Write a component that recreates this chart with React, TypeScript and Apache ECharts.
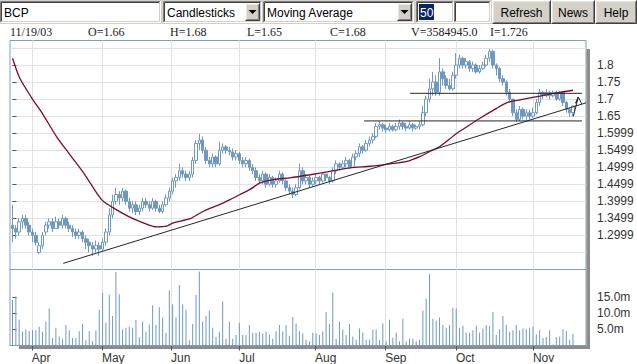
import React, { useEffect, useRef } from "react";
import * as echarts from "echarts";

// Daily candles: [open, close, low, high]
const ohlc: number[][] = [
  [1.33, 1.32, 1.28, 1.39], [1.32, 1.31, 1.29, 1.33], [1.31, 1.34, 1.30, 1.35], [1.34, 1.35, 1.32, 1.36], [1.35, 1.33, 1.32, 1.36],
  [1.33, 1.31, 1.30, 1.34], [1.31, 1.30, 1.28, 1.32], [1.30, 1.28, 1.27, 1.31], [1.25, 1.27, 1.245, 1.28], [1.27, 1.30, 1.26, 1.31],
  [1.31, 1.33, 1.30, 1.34], [1.33, 1.34, 1.32, 1.35], [1.34, 1.32, 1.31, 1.35], [1.32, 1.34, 1.32, 1.355], [1.34, 1.33, 1.32, 1.35],
  [1.33, 1.35, 1.32, 1.36], [1.35, 1.33, 1.32, 1.355], [1.33, 1.32, 1.31, 1.34], [1.32, 1.31, 1.295, 1.33], [1.31, 1.30, 1.29, 1.32],
  [1.30, 1.31, 1.29, 1.32], [1.31, 1.29, 1.28, 1.315], [1.29, 1.28, 1.26, 1.30], [1.28, 1.27, 1.25, 1.29], [1.27, 1.26, 1.24, 1.28],
  [1.26, 1.27, 1.25, 1.285], [1.27, 1.26, 1.24, 1.28], [1.26, 1.28, 1.255, 1.29], [1.28, 1.31, 1.27, 1.32], [1.31, 1.36, 1.30, 1.38],
  [1.36, 1.40, 1.35, 1.42], [1.40, 1.42, 1.39, 1.44], [1.42, 1.41, 1.39, 1.43], [1.41, 1.43, 1.40, 1.44], [1.43, 1.40, 1.39, 1.435],
  [1.40, 1.38, 1.37, 1.41], [1.38, 1.39, 1.365, 1.40], [1.39, 1.37, 1.36, 1.40], [1.37, 1.38, 1.36, 1.39], [1.38, 1.40, 1.37, 1.41],
  [1.40, 1.39, 1.38, 1.41], [1.39, 1.38, 1.37, 1.40], [1.38, 1.40, 1.375, 1.41], [1.40, 1.38, 1.37, 1.405], [1.38, 1.37, 1.365, 1.39],
  [1.37, 1.39, 1.365, 1.40], [1.39, 1.41, 1.385, 1.42], [1.41, 1.43, 1.40, 1.44], [1.43, 1.46, 1.42, 1.47], [1.46, 1.47, 1.44, 1.48],
  [1.47, 1.49, 1.46, 1.51], [1.49, 1.48, 1.47, 1.50], [1.48, 1.47, 1.46, 1.49], [1.47, 1.48, 1.46, 1.49], [1.48, 1.52, 1.47, 1.53],
  [1.52, 1.57, 1.51, 1.58], [1.57, 1.58, 1.55, 1.598], [1.58, 1.55, 1.54, 1.59], [1.55, 1.52, 1.51, 1.56], [1.52, 1.51, 1.50, 1.53],
  [1.51, 1.53, 1.50, 1.54], [1.53, 1.51, 1.50, 1.535], [1.51, 1.55, 1.505, 1.575], [1.55, 1.56, 1.54, 1.57], [1.56, 1.55, 1.54, 1.565],
  [1.55, 1.545, 1.535, 1.56], [1.545, 1.53, 1.52, 1.555], [1.53, 1.54, 1.52, 1.55], [1.54, 1.52, 1.51, 1.545], [1.52, 1.51, 1.50, 1.53],
  [1.51, 1.52, 1.50, 1.53], [1.52, 1.50, 1.49, 1.525], [1.50, 1.49, 1.48, 1.51], [1.49, 1.47, 1.46, 1.50], [1.47, 1.46, 1.45, 1.48],
  [1.46, 1.48, 1.45, 1.49], [1.48, 1.45, 1.44, 1.485], [1.45, 1.47, 1.445, 1.48], [1.47, 1.45, 1.44, 1.475], [1.45, 1.46, 1.44, 1.47],
  [1.46, 1.48, 1.455, 1.49], [1.48, 1.46, 1.45, 1.485], [1.46, 1.44, 1.43, 1.465], [1.44, 1.43, 1.42, 1.45], [1.43, 1.42, 1.41, 1.44],
  [1.42, 1.44, 1.415, 1.45], [1.44, 1.49, 1.435, 1.51], [1.49, 1.46, 1.45, 1.50], [1.46, 1.47, 1.45, 1.48], [1.47, 1.45, 1.44, 1.475],
  [1.45, 1.46, 1.445, 1.47], [1.46, 1.47, 1.45, 1.48], [1.47, 1.46, 1.45, 1.475], [1.46, 1.48, 1.455, 1.485], [1.48, 1.47, 1.46, 1.48],
  [1.47, 1.46, 1.45, 1.475], [1.46, 1.49, 1.455, 1.50], [1.49, 1.51, 1.48, 1.52], [1.51, 1.50, 1.49, 1.515], [1.50, 1.51, 1.495, 1.52],
  [1.51, 1.52, 1.50, 1.53], [1.52, 1.50, 1.495, 1.525], [1.50, 1.53, 1.50, 1.54], [1.53, 1.54, 1.52, 1.55], [1.54, 1.56, 1.53, 1.57],
  [1.56, 1.55, 1.54, 1.565], [1.55, 1.57, 1.545, 1.58], [1.57, 1.58, 1.56, 1.59], [1.58, 1.59, 1.57, 1.60], [1.59, 1.62, 1.585, 1.63],
  [1.62, 1.625, 1.61, 1.635], [1.625, 1.615, 1.605, 1.63], [1.615, 1.61, 1.60, 1.625], [1.61, 1.62, 1.605, 1.63], [1.62, 1.61, 1.605, 1.625],
  [1.61, 1.62, 1.605, 1.63], [1.62, 1.63, 1.61, 1.64], [1.63, 1.62, 1.61, 1.635], [1.62, 1.615, 1.605, 1.63], [1.615, 1.625, 1.61, 1.635],
  [1.625, 1.615, 1.605, 1.63], [1.615, 1.62, 1.61, 1.625], [1.62, 1.625, 1.61, 1.635], [1.625, 1.66, 1.62, 1.68], [1.66, 1.70, 1.65, 1.71],
  [1.70, 1.73, 1.69, 1.76], [1.73, 1.75, 1.71, 1.78], [1.75, 1.72, 1.71, 1.77], [1.72, 1.78, 1.71, 1.82], [1.78, 1.76, 1.74, 1.79],
  [1.76, 1.74, 1.73, 1.77], [1.74, 1.73, 1.725, 1.76], [1.73, 1.77, 1.725, 1.78], [1.77, 1.80, 1.76, 1.835], [1.80, 1.82, 1.79, 1.83],
  [1.82, 1.80, 1.79, 1.825], [1.80, 1.81, 1.79, 1.82], [1.81, 1.79, 1.78, 1.815], [1.79, 1.80, 1.78, 1.81], [1.80, 1.78, 1.775, 1.805],
  [1.78, 1.79, 1.775, 1.80], [1.79, 1.80, 1.785, 1.81], [1.80, 1.82, 1.795, 1.83], [1.82, 1.84, 1.81, 1.847], [1.84, 1.80, 1.79, 1.845],
  [1.80, 1.79, 1.77, 1.805], [1.79, 1.76, 1.75, 1.795], [1.76, 1.75, 1.74, 1.77], [1.75, 1.72, 1.71, 1.755], [1.72, 1.70, 1.69, 1.73],
  [1.70, 1.66, 1.65, 1.70], [1.66, 1.64, 1.633, 1.67], [1.64, 1.67, 1.635, 1.68], [1.67, 1.65, 1.64, 1.675], [1.65, 1.66, 1.64, 1.67],
  [1.66, 1.65, 1.64, 1.67], [1.65, 1.66, 1.645, 1.675], [1.66, 1.69, 1.655, 1.70], [1.69, 1.72, 1.68, 1.73], [1.72, 1.71, 1.70, 1.725],
  [1.71, 1.72, 1.705, 1.73], [1.72, 1.71, 1.70, 1.725], [1.71, 1.72, 1.705, 1.725], [1.72, 1.70, 1.695, 1.725], [1.70, 1.72, 1.695, 1.725],
  [1.72, 1.69, 1.68, 1.72], [1.69, 1.67, 1.66, 1.695], [1.67, 1.66, 1.648, 1.675], [1.66, 1.68, 1.65, 1.68],
];

// Daily volume, millions of shares
const volumes: number[] = [
  14.0, 15.1, 7.9, 4.2, 5.0, 4.5, 4.7, 4.7, 5.8, 4.2,
  7.4, 11.4, 2.3, 5.5, 2.8, 2.1, 6.3, 4.7, 2.3, 2.3,
  4.4, 6.6, 1.6, 4.4, 1.3, 4.7, 11.0, 16.3, 7.0, 15.6,
  9.1, 22.6, 15.8, 5.0, 5.5, 5.8, 5.5, 7.9, 2.6, 7.4,
  4.2, 6.5, 12.4, 6.3, 11.8, 8.6, 3.9, 17.0, 12.7, 8.6,
  18.6, 12.7, 11.0, 1.6, 6.6, 15.6, 22.8, 7.4, 9.1, 10.7,
  5.5, 2.6, 4.2, 13.6, 2.1, 7.4, 2.1, 3.2, 7.0, 3.2,
  3.2, 6.3, 3.9, 3.9, 4.2, 3.7, 4.2, 3.4, 2.1, 4.4,
  6.3, 4.4, 6.3, 3.0, 8.8, 6.8, 4.4, 3.7, 1.8, 1.3,
  3.9, 3.7,
  3.2, 4.4, 10.3, 6.6, 16.3, 2.0, 7.3, 4.9, 3.2, 6.6,
  2.8, 1.8, 5.2, 3.9, 1.8, 1.8, 4.9, 4.9, 1.8, 6.8,
  1.3, 7.9, 2.4, 3.9, 1.3, 8.2, 1.3, 2.1, 2.1, 1.3,
  1.8, 10.7, 14.4, 22.0, 8.2, 7.6, 8.6, 6.3, 5.5, 6.3,
  11.6, 11.4, 5.5, 6.1, 3.9, 3.9, 4.7, 6.1, 3.9, 5.2,
  6.3, 6.0, 10.3, 3.2, 5.0, 9.1, 6.3, 4.2, 4.7, 6.3,
  4.7, 5.2, 5.0, 5.5, 5.8, 3.4, 4.7, 2.3, 2.6, 4.7,
  0.3, 2.6, 2.8, 5.0, 4.4, 1.8, 3.6,
];

// 50-day moving average: [day index, value]
const maPoints: number[][] = [
  [0, 1.82], [2.2, 1.761], [5.8, 1.703], [9.2, 1.654], [13.2, 1.59], [17.2, 1.537], [21.7, 1.478],
  [25.2, 1.425], [27.2, 1.4], [30.2, 1.381], [34.7, 1.356], [39.2, 1.337], [43.2, 1.325], [46.2, 1.327],
  [48.2, 1.337], [53.2, 1.349], [57.2, 1.371], [62.2, 1.391], [65.2, 1.405], [68.2, 1.42], [71.2, 1.435],
  [74.2, 1.454], [78.2, 1.464], [83.2, 1.469], [89.2, 1.478], [95.2, 1.488], [101.2, 1.498], [107.2, 1.503],
  [113.2, 1.51], [118.2, 1.517], [122.2, 1.532], [125.2, 1.547], [128.1, 1.561], [133.2, 1.6], [135.6, 1.615],
  [140.1, 1.644], [145.1, 1.673], [148.6, 1.691], [152.1, 1.698], [158.1, 1.709], [164.1, 1.72], [168, 1.726],
];

const monthNames = ["Apr", "May", "Jun", "Jul", "Aug", "Sep", "Oct", "Nov"];
const monthTickDays = [5.8, 26.8, 47.5, 68, 90.7, 111.7, 132.9, 156];

const priceTickValues = [1.3, 1.35, 1.4, 1.45, 1.5, 1.55, 1.6, 1.65, 1.7, 1.75, 1.8];
const priceTickLabels = ["1.2999", "1.3499", "1.3999", "1.4499", "1.4999", "1.5499", "1.5999", "1.65", "1.7", "1.75", "1.8"];
const volumeTickValues = [5, 10, 15];
const volumeTickLabels = ["5.0m", "10.0m", "15.0m"];

// Hand-drawn annotations: [day index, price]
const trendLine = [[15.2, 1.218], [171.9, 1.689]];
const resistanceLine = [[119.2, 1.717], [170.7, 1.717]];
const supportLine = [[105.4, 1.636], [170.7, 1.636]];
const arrowPath = [[168.1, 1.649], [169.6, 1.706], [168.8, 1.688], [169.6, 1.706], [170.6, 1.686]];

const quoteLabels = ["11/19/03", "O=1.66", "H=1.68", "L=1.65", "C=1.68", "V=3584945.0", "I=1.726"];
const toolbarTexts = { symbol: "BCP", chartType: "Candlesticks", indicator: "Moving Average", period: "50", buttons: ["Refresh", "News", "Help"] };

const BORDER = "#7d9ebf";
const GRID = "#e2e2e2";
const CANDLE = "#6f99c0";
const MA = "#7a0c2e";
const TREND = "#262626";
const FACE = "#d4d0c8";
const SANS = "'Liberation Sans', Arial, sans-serif";

function bevel(x: number, y: number, w: number, h: number, sunken: boolean): any[] {
  const tl1 = sunken ? "#808080" : "#ffffff";
  const tl2 = sunken ? "#404040" : "#e8e6e0";
  const br1 = sunken ? "#ffffff" : "#404040";
  const br2 = sunken ? FACE : "#808080";
  const L = (x1: number, y1: number, x2: number, y2: number, c: string) => ({
    type: "line", z: 101, silent: true, shape: { x1, y1, x2, y2 }, style: { stroke: c, lineWidth: 1 },
  });
  return [
    L(x + 0.5, y + 0.5, x + w - 0.5, y + 0.5, tl1),
    L(x + 0.5, y + 0.5, x + 0.5, y + h - 0.5, tl1),
    L(x + 1.5, y + 1.5, x + w - 1.5, y + 1.5, tl2),
    L(x + 1.5, y + 1.5, x + 1.5, y + h - 1.5, tl2),
    L(x + 0.5, y + h - 0.5, x + w - 0.5, y + h - 0.5, br1),
    L(x + w - 0.5, y + 0.5, x + w - 0.5, y + h - 0.5, br1),
    L(x + 1.5, y + h - 1.5, x + w - 1.5, y + h - 1.5, br2),
    L(x + w - 1.5, y + 1.5, x + w - 1.5, y + h - 1.5, br2),
  ];
}

function field(x: number, y: number, w: number, h: number, fill: string): any[] {
  return [{ type: "rect", z: 100, silent: true, shape: { x, y, width: w, height: h }, style: { fill } }, ...bevel(x, y, w, h, true)];
}

function button(x: number, y: number, w: number, h: number, label: string | null): any[] {
  const els: any[] = [{ type: "rect", z: 100, silent: true, shape: { x, y, width: w, height: h }, style: { fill: FACE } }, ...bevel(x, y, w, h, false)];
  if (label) {
    els.push({ type: "text", z: 102, silent: true, x: x + w / 2, y: y + h / 2 + 1, style: { text: label, fill: "#000", font: `12px ${SANS}`, align: "center", verticalAlign: "middle" } });
  }
  return els;
}

function arrowDown(cx: number, cy: number): any {
  return { type: "polygon", z: 103, silent: true, shape: { points: [[cx - 4, cy - 2], [cx + 4, cy - 2], [cx, cy + 2]] }, style: { fill: "#000" } };
}

function buildGraphic(): any[] {
  const g: any[] = [];
  g.push({ type: "rect", z: 99, silent: true, shape: { x: 0, y: 0, width: 637, height: 24 }, style: { fill: FACE } });
  g.push(...field(0, 1, 161, 22, "#fff"));
  g.push({ type: "text", z: 102, silent: true, x: 4, y: 12.5, style: { text: toolbarTexts.symbol, fill: "#000", font: `12px ${SANS}`, verticalAlign: "middle" } });
  g.push(...field(163, 1, 99, 22, "#fff"));
  g.push({ type: "text", z: 102, silent: true, x: 167, y: 12.5, style: { text: toolbarTexts.chartType, fill: "#000", font: `12px ${SANS}`, verticalAlign: "middle" } });
  g.push(...button(245, 3, 15, 18, null));
  g.push(arrowDown(252.5, 12));
  g.push(...field(263, 1, 151, 22, "#fff"));
  g.push({ type: "text", z: 102, silent: true, x: 267, y: 12.5, style: { text: toolbarTexts.indicator, fill: "#000", font: `12px ${SANS}`, verticalAlign: "middle" } });
  g.push(...button(397, 3, 15, 18, null));
  g.push(arrowDown(404.5, 12));
  g.push(...field(416, 1, 38, 22, "#fff"));
  g.push({ type: "rect", z: 102, silent: true, shape: { x: 419, y: 4, width: 15, height: 16 }, style: { fill: "#0a246a" } });
  g.push({ type: "text", z: 103, silent: true, x: 420, y: 12.5, style: { text: toolbarTexts.period, fill: "#fff", font: `12px ${SANS}`, verticalAlign: "middle" } });
  g.push(...field(454, 1, 37, 22, "#fff"));
  g.push(...button(492, 0, 59, 24, toolbarTexts.buttons[0]));
  g.push(...button(551, 0, 44, 24, toolbarTexts.buttons[1]));
  g.push(...button(595, 0, 42, 24, toolbarTexts.buttons[2]));
  const qx = [10, 88, 170, 247, 330, 411, 490];
  quoteLabels.forEach((t, k) => {
    g.push({ type: "text", z: 50, silent: true, x: qx[k], y: 32, style: { text: t, fill: "#222", font: `12px 'Liberation Serif', 'Times New Roman', serif`, verticalAlign: "middle" } });
  });
  g.push({ type: "rect", z: 0, silent: true, shape: { x: 586.5, y: 49, width: 3.5, height: 300 }, style: { fill: "#8c8c8c" } });
  g.push({ type: "rect", z: 0, silent: true, shape: { x: 19, y: 346, width: 571, height: 3 }, style: { fill: "#8c8c8c" } });
  return g;
}

function findLabel(values: number[], labels: string[], v: number): string {
  const k = values.findIndex((t) => Math.abs(t - v) < 1e-6);
  return k >= 0 ? labels[k] : "";
}

const X_MIN = -0.75;
const X_MAX = 171.9;

function buildOption(): any {
  const gridLineSeries = (xi: number, yi: number, withHorizontal: boolean) => ({
    type: "line",
    xAxisIndex: xi,
    yAxisIndex: yi,
    data: [[-5, xi === 0 ? 1.5 : 1]],
    symbol: "none",
    lineStyle: { opacity: 0 },
    silent: true,
    z: 1,
    markLine: {
      silent: true,
      z: 1,
      animation: false,
      symbol: ["none", "none"],
      label: { show: false },
      emphasis: { disabled: true },
      lineStyle: { color: GRID, width: 1, type: "solid" },
      data: [
        ...monthTickDays.map((d) => ({ xAxis: d })),
        ...(withHorizontal ? [1.25, 1.85].map((v) => ({ yAxis: v })) : []),
      ],
    },
  });

  return {
    animation: false,
    backgroundColor: "#ffffff",
    graphic: { elements: buildGraphic() },
    grid: [
      { left: 10, top: 40.5, width: 576, height: 229, show: true, borderColor: BORDER, borderWidth: 1, backgroundColor: "#fff", containLabel: false, outerBoundsMode: "none" },
      { left: 10, top: 269.5, width: 576, height: 76, show: true, borderColor: BORDER, borderWidth: 1, backgroundColor: "#fff", containLabel: false, outerBoundsMode: "none" },
    ],
    xAxis: [
      {
        type: "value", gridIndex: 0, min: X_MIN, max: X_MAX,
        axisLine: { show: false }, axisTick: { show: false }, axisLabel: { show: false }, splitLine: { show: false },
      },
      {
        type: "value", gridIndex: 1, min: X_MIN, max: X_MAX,
        axisLine: { show: true, lineStyle: { color: BORDER } },
        axisTick: { show: true, customValues: monthTickDays, length: 5, lineStyle: { color: "#555" } },
        axisLabel: {
          customValues: monthTickDays, align: "left", margin: 6, fontSize: 12, fontFamily: SANS, color: "#333",
          formatter: (v: number) => findLabel(monthTickDays, monthNames, v),
        },
        splitLine: { show: false },
      },
    ],
    yAxis: [
      {
        type: "value", gridIndex: 0, position: "right", offset: 3, min: 1.2, max: 1.872, interval: 0.05,
        axisLine: { show: false },
        axisTick: { show: true, customValues: priceTickValues, length: 4, lineStyle: { color: "#555" } },
        axisLabel: {
          customValues: priceTickValues, margin: 8, fontSize: 12, fontFamily: SANS, color: "#333",
          formatter: (v: number) => findLabel(priceTickValues, priceTickLabels, v),
        },
        splitLine: { show: true, lineStyle: { color: GRID, width: 1 } },
      },
      {
        type: "value", gridIndex: 1, position: "right", offset: 3, min: 0, max: 23.4, interval: 5,
        axisLine: { show: false },
        axisTick: { show: true, customValues: volumeTickValues, length: 4, lineStyle: { color: "#555" } },
        axisLabel: {
          customValues: volumeTickValues, margin: 8, fontSize: 12, fontFamily: SANS, color: "#333",
          formatter: (v: number) => findLabel(volumeTickValues, volumeTickLabels, v),
        },
        splitLine: { show: false },
      },
    ],
    series: [
      gridLineSeries(0, 0, true),
      gridLineSeries(1, 1, false),
      {
        type: "candlestick",
        xAxisIndex: 0,
        yAxisIndex: 0,
        z: 3,
        barWidth: 3,
        encode: { x: 0, y: [1, 2, 3, 4] },
        data: ohlc.map((d, i) => [i, d[0], d[1], d[2], d[3]]),
        itemStyle: { color: "#ffffff", color0: CANDLE, borderColor: CANDLE, borderColor0: CANDLE, borderWidth: 1 },
        silent: true,
      },
      {
        type: "line", xAxisIndex: 0, yAxisIndex: 0, z: 4, data: maPoints, symbol: "none", smooth: 0.25,
        lineStyle: { color: MA, width: 1.3 }, silent: true,
      },
      {
        type: "line", xAxisIndex: 0, yAxisIndex: 0, z: 5, data: trendLine, symbol: "none",
        lineStyle: { color: TREND, width: 1 }, silent: true,
      },
      {
        type: "line", xAxisIndex: 0, yAxisIndex: 0, z: 5, data: resistanceLine, symbol: "none",
        lineStyle: { color: TREND, width: 1 }, silent: true,
      },
      {
        type: "line", xAxisIndex: 0, yAxisIndex: 0, z: 5, data: supportLine, symbol: "none",
        lineStyle: { color: TREND, width: 1 }, silent: true,
      },
      {
        type: "line", xAxisIndex: 0, yAxisIndex: 0, z: 5, data: arrowPath, symbol: "none",
        lineStyle: { color: TREND, width: 1 }, silent: true, clip: false,
      },
      {
        type: "bar", xAxisIndex: 1, yAxisIndex: 1, z: 3, barWidth: 1,
        data: volumes.map((v, i) => [i, v]),
        itemStyle: { color: CANDLE }, silent: true,
      },
    ],
  };
}

export default function App() {
  const ref = useRef<HTMLDivElement>(null);
  useEffect(() => {
    document.body.style.margin = "0";
    if (!ref.current) return;
    const chart = echarts.init(ref.current, undefined, { renderer: "svg" });
    chart.setOption(buildOption());
    return () => chart.dispose();
  }, []);
  return <div ref={ref} style={{ width: 637, height: 364 }} />;
}
